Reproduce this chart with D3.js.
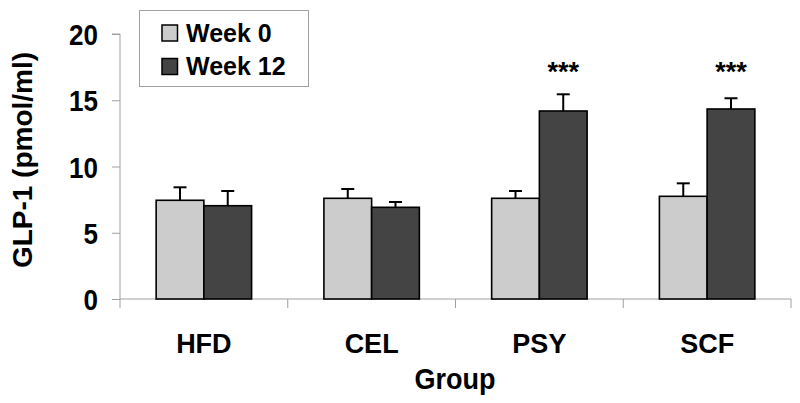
<!DOCTYPE html>
<html>
<head>
<meta charset="utf-8">
<script src="https://cdn.jsdelivr.net/npm/d3@7"></script>
<style>
  html, body { margin: 0; padding: 0; background: #fff; }
  svg { display: block; }
  text { font-family: "Liberation Sans", Arial, sans-serif; font-weight: bold; fill: #000; }
</style>
</head>
<body>
<svg id="chart" width="800" height="403"></svg>
<script>
// ---- data ----
const groups = ["HFD", "CEL", "PSY", "SCF"];
const seriesNames = ["Week 0", "Week 12"];
const week0 = [7.45, 7.6, 7.6, 7.75];
const week0Err = [0.98, 0.7, 0.55, 0.98];
const week12 = [7.04, 6.92, 14.19, 14.34];
const week12Err = [1.11, 0.4, 1.26, 0.81];
const significance = ["", "", "***", "***"];
const yTicks = [0, 5, 10, 15, 20];

// ---- layout ----
const svg = d3.select("#chart");
const plot = { left: 120, right: 791, top: 34, bottom: 299 };
const colors = ["#cccccc", "#444444"];
const axisColor = "#a0a0a0";

const x0 = d3.scaleBand().domain(groups).range([plot.left, plot.right]).paddingInner(0).paddingOuter(0);
const groupW = x0.bandwidth() * 0.569;
const x1 = d3.scaleBand().domain(seriesNames)
  .range([(x0.bandwidth() - groupW) / 2, (x0.bandwidth() + groupW) / 2]).padding(0);
const y = d3.scaleLinear().domain([0, 20]).range([plot.bottom, plot.top]);

// y axis
const yAxis = svg.append("g").attr("transform", `translate(${plot.left},0)`)
  .call(d3.axisLeft(y).tickValues(yTicks).tickSize(8).tickPadding(14).tickFormat(d3.format("d")));
yAxis.select(".domain").attr("stroke", axisColor).attr("d", `M-8,${plot.top}H0V${plot.bottom}`);
yAxis.selectAll(".tick line").attr("stroke", axisColor);
// replace tick text with vertically stretched labels
yAxis.selectAll(".tick text").each(function(d) {
  const t = d3.select(this);
  t.attr("x", null).attr("dy", null).attr("font-family", null).attr("fill", "#000")
    .attr("font-size", 26)
    .attr("text-anchor", "end")
    .attr("transform", `translate(-22,10.5) scale(1,1.13)`);
});

// x axis
const xAxisG = svg.append("g");
xAxisG.append("line").attr("x1", plot.left).attr("x2", plot.right)
  .attr("y1", plot.bottom).attr("y2", plot.bottom).attr("stroke", axisColor);
const boundaries = groups.map(g => x0(g)).concat([x0(groups[groups.length - 1]) + x0.bandwidth()]);
xAxisG.selectAll("line.cat").data(boundaries).enter().append("line")
  .attr("class", "cat")
  .attr("x1", d => d).attr("x2", d => d)
  .attr("y1", plot.bottom).attr("y2", plot.bottom + 9)
  .attr("stroke", axisColor);
xAxisG.selectAll("text.cat").data(groups).enter().append("text")
  .attr("x", d => x0(d) + x0.bandwidth() / 2)
  .attr("y", 353)
  .attr("text-anchor", "middle")
  .attr("font-size", 27)
  .text(d => d);

// bars
const rows = groups.map((g, i) => ({
  g,
  vals: [
    { s: seriesNames[0], v: week0[i], e: week0Err[i], c: colors[0] },
    { s: seriesNames[1], v: week12[i], e: week12Err[i], c: colors[1] }
  ],
  sig: significance[i]
}));

const gg = svg.selectAll("g.grp").data(rows).enter().append("g")
  .attr("class", "grp")
  .attr("transform", d => `translate(${x0(d.g)},0)`);

// error bars (drawn before bars so bar stroke overlays)
gg.selectAll("g.err").data(d => d.vals).enter().append("g").attr("class", "err").each(function(d) {
  const cx = x1(d.s) + x1.bandwidth() / 2;
  const g = d3.select(this);
  g.append("line").attr("x1", cx).attr("x2", cx)
    .attr("y1", y(d.v)).attr("y2", y(d.v + d.e))
    .attr("stroke", "#000").attr("stroke-width", 2);
  g.append("line").attr("x1", cx - 6.5).attr("x2", cx + 6.5)
    .attr("y1", y(d.v + d.e)).attr("y2", y(d.v + d.e))
    .attr("stroke", "#000").attr("stroke-width", 2);
});

gg.selectAll("rect").data(d => d.vals).enter().append("rect")
  .attr("x", d => x1(d.s))
  .attr("y", d => y(d.v))
  .attr("width", x1.bandwidth())
  .attr("height", d => y(0) - y(d.v))
  .attr("fill", d => d.c)
  .attr("stroke", "#000")
  .attr("stroke-width", 1.6);

gg.append("text")
  .attr("x", x1(seriesNames[1]) + x1.bandwidth() / 2)
  .attr("y", 81)
  .attr("text-anchor", "middle")
  .attr("font-size", 27)
  .text(d => d.sig);

// axis titles
svg.append("text")
  .attr("transform", `translate(32,160) rotate(-90)`)
  .attr("text-anchor", "middle")
  .attr("font-size", 28)
  .text("GLP-1 (pmol/ml)");

svg.append("text")
  .attr("transform", `translate(455,389) scale(1,1.08)`)
  .attr("text-anchor", "middle")
  .attr("font-size", 27)
  .text("Group");

// legend
const leg = svg.append("g");
leg.append("rect").attr("x", 139.5).attr("y", 10.5).attr("width", 169).attr("height", 76)
  .attr("fill", "#fff").attr("stroke", axisColor);
const legBase = [41.5, 75];
seriesNames.forEach((s, i) => {
  leg.append("rect").attr("x", 162).attr("y", legBase[i] - 16.5).attr("width", 15.5).attr("height", 16)
    .attr("fill", colors[i]).attr("stroke", "#000").attr("stroke-width", 1.5);
  leg.append("text").attr("x", 186).attr("y", legBase[i]).attr("font-size", 25).text(s);
});
</script>
</body>
</html>
